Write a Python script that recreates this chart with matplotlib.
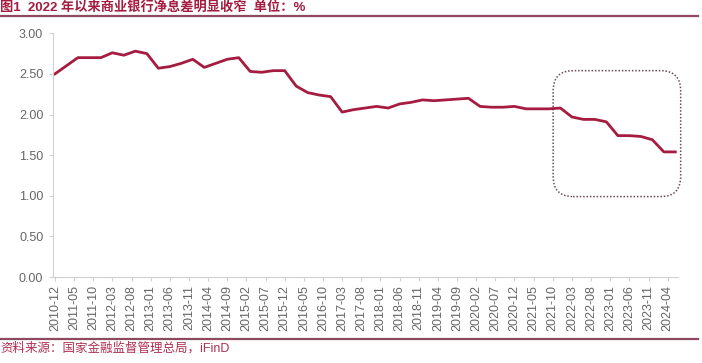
import matplotlib.pyplot as plt
import pandas as pd
from matplotlib.patches import FancyBboxPatch
from matplotlib.lines import Line2D

plt.rcParams['font.family'] = ['Liberation Sans', 'Noto Sans CJK SC', 'DejaVu Sans']

# 商业银行净息差（季度，%）
nim = [2.50, 2.60, 2.70, 2.70, 2.70, 2.76, 2.73, 2.78, 2.75,
       2.57, 2.59, 2.63, 2.68, 2.58, 2.63, 2.68, 2.70,
       2.53, 2.52, 2.54, 2.54, 2.35, 2.27, 2.24, 2.22,
       2.03, 2.06, 2.08, 2.10, 2.08, 2.13, 2.15, 2.18,
       2.17, 2.18, 2.19, 2.20, 2.10, 2.09, 2.09, 2.10,
       2.07, 2.07, 2.07, 2.08, 1.97, 1.94, 1.94, 1.91,
       1.74, 1.74, 1.73, 1.69, 1.54, 1.54]
dates = pd.date_range('2010-12-01', periods=len(nim), freq='3MS')

start = pd.Timestamp('2010-12-01')
def month_idx(d):
    return (d.year - start.year) * 12 + d.month - start.month

x = [month_idx(d) for d in dates]
tick_dates = pd.date_range('2010-12-01', '2024-04-01', freq='5MS')
tick_pos = [month_idx(d) for d in tick_dates]
tick_labels = [d.strftime('%Y-%m') for d in tick_dates]
yticks = [0.0, 0.5, 1.0, 1.5, 2.0, 2.5, 3.0]

# 标注框（2022年以来）
box_x0, box_x1 = 130.1, 163.4
box_y0, box_y1 = 0.99, 2.54

title = '图1  2022 年以来商业银行净息差明显收窄  单位：%'
source = '资料来源：国家金融监督管理总局，iFinD'

red = '#a51c40'
fig = plt.figure(figsize=(7.02, 3.63), dpi=100)
ax = fig.add_axes([0.0755, 0.2369, 0.8903, 0.6714])

ax.plot(x, nim, color=red, lw=2.0, solid_joinstyle='round')

rx = 5.2
box = FancyBboxPatch((box_x0, box_y0), box_x1 - box_x0, box_y1 - box_y0,
                     boxstyle=f'round,pad=0,rounding_size={rx}',
                     mutation_aspect=0.25 / rx, fill=False,
                     ec='#6e4a55', lw=1.1, ls=(0, (1, 1.2)), clip_on=False)
ax.add_patch(box)

ax.set_xlim(-0.5, 162.7)
ax.set_ylim(0, 3.0)
ax.set_yticks(yticks)
ax.set_yticklabels([f'{v:.2f}' for v in yticks])
ax.set_xticks(tick_pos)
ax.set_xticklabels(tick_labels, rotation=90)
for s in ['top', 'right']:
    ax.spines[s].set_visible(False)
for s in ['left', 'bottom']:
    ax.spines[s].set_color('#d0d0d0')
    ax.spines[s].set_linewidth(0.8)
ax.tick_params(axis='both', colors='#d0d0d0', labelcolor='#666666',
               labelsize=9, length=3, width=0.8)
ax.tick_params(axis='x', pad=3)
ax.tick_params(axis='y', pad=4)

fig.text(0.0, 0.979, title, color=red, fontsize=9.5, fontweight='bold',
         va='center', ha='left')
fig.text(0.0, 0.040, source, color='#b03050', fontsize=9, va='center', ha='left')
fig.add_artist(Line2D([0, 0.995], [0.957, 0.957], transform=fig.transFigure,
                      color='#8c4a5c', lw=1.6))
fig.add_artist(Line2D([0, 0.995], [0.066, 0.066], transform=fig.transFigure,
                      color='#8c4a5c', lw=1.6))

fig.savefig('out.png', dpi=100)
